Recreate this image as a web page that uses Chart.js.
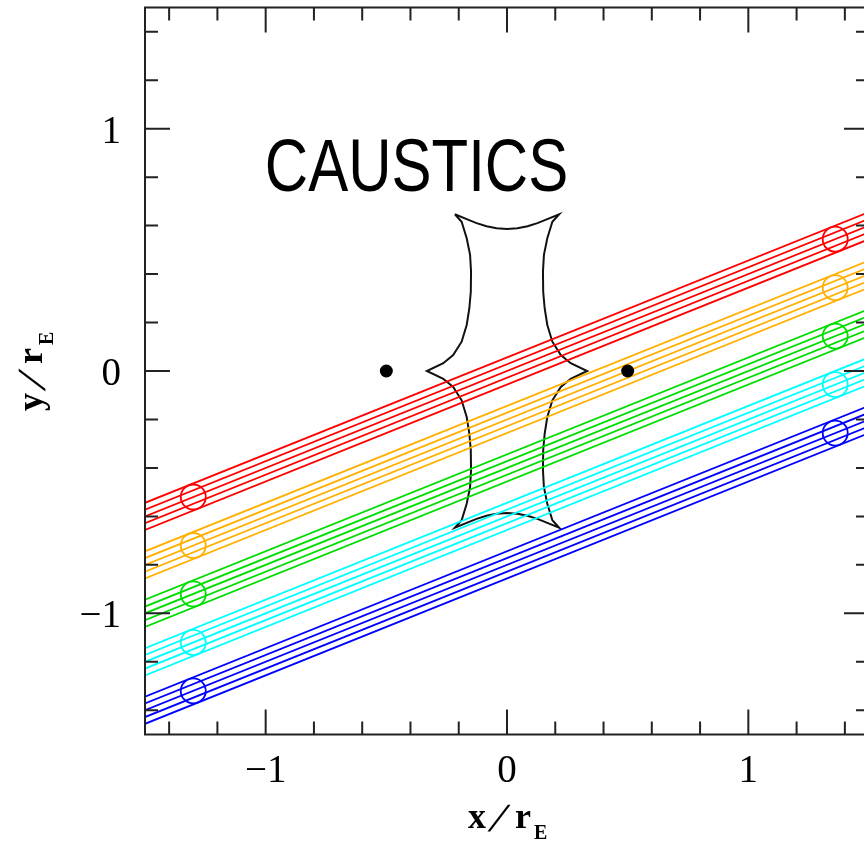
<!DOCTYPE html>
<html lang="en">
<head>
<meta charset="UTF-8">
<title>Caustics</title>
<script src="https://cdn.jsdelivr.net/npm/chart.js"></script>
<style>
  html, body { margin: 0; padding: 0; overflow: hidden; background: #fff; }
  canvas { display: block; }
</style>
</head>
<body>
<canvas id="chart" width="880" height="844"></canvas>
<script>
// source tracks: y of the central line at x = -1.5 and x = +1.5
const trackColors = ['#ff0000', '#ffb000', '#00dd00', '#00ffff', '#0000ff'];
const trackStartY = [-0.6, -0.8, -1.0, -1.2, -1.4];
const trackEndY = [0.6, 0.4, 0.2, 0.0, -0.2];
// every track is a bundle of 5 parallel lines
const lineOffsets = [0.056, 0.028, 0, -0.028, -0.056];

// source discs, two per track
const discX = [-1.30, 1.36];
const discY = [
  [-0.52, 0.544],
  [-0.72, 0.344],
  [-0.92, 0.144],
  [-1.12, -0.056],
  [-1.32, -0.256]
];

// lens positions
const lensX = [-0.5, 0.5];
const lensY = [0, 0];

// caustic curve, clockwise from the upper left cusp
const causticX = [
  -0.216, -0.167, -0.126, -0.085, -0.043, 0, 0.043, 0.085, 0.126, 0.167, 0.216,
  0.188, 0.167, 0.153, 0.149, 0.150, 0.156, 0.167, 0.188, 0.223, 0.264, 0.332,
  0.264, 0.223, 0.188, 0.167, 0.156, 0.150, 0.149, 0.153, 0.167, 0.188, 0.216,
  0.167, 0.126, 0.085, 0.043, 0, -0.043, -0.085, -0.126, -0.167, -0.216,
  -0.188, -0.167, -0.153, -0.149, -0.150, -0.156, -0.167, -0.188, -0.223, -0.264, -0.332,
  -0.264, -0.223, -0.188, -0.167, -0.156, -0.150, -0.149, -0.153, -0.167, -0.188, -0.216
];
const causticY = [
  0.647, 0.627, 0.610, 0.597, 0.589, 0.586, 0.589, 0.597, 0.610, 0.627, 0.647,
  0.616, 0.548, 0.479, 0.410, 0.327, 0.259, 0.190, 0.121, 0.066, 0.032, 0,
  -0.032, -0.066, -0.121, -0.190, -0.259, -0.327, -0.410, -0.479, -0.548, -0.616, -0.647,
  -0.627, -0.610, -0.597, -0.589, -0.586, -0.589, -0.597, -0.610, -0.627, -0.647,
  -0.616, -0.548, -0.479, -0.410, -0.327, -0.259, -0.190, -0.121, -0.066, -0.032, 0,
  0.032, 0.066, 0.121, 0.190, 0.259, 0.327, 0.410, 0.479, 0.548, 0.616, 0.647
];

// axis ticks
const majorTicks = [-1, 0, 1];
const tickLabels = ['\u22121', '0', '1'];
const minorTicks = [-1.4, -1.2, -0.8, -0.6, -0.4, -0.2, 0.2, 0.4, 0.6, 0.8, 1.2, 1.4];

const datasets = [];
datasets.push({
  data: lensX.map((x, i) => ({ x, y: lensY[i] })),
  showLine: false,
  pointRadius: 6.5,
  pointBackgroundColor: '#000',
  pointBorderWidth: 0,
  order: 0
});
trackColors.forEach((color, t) => {
  datasets.push({
    data: discX.map((x, i) => ({ x, y: discY[t][i] })),
    showLine: false,
    pointRadius: 12.5,
    pointBorderWidth: 1.8,
    pointBorderColor: color,
    pointBackgroundColor: 'rgba(0,0,0,0)',
    order: 1
  });
  lineOffsets.forEach(off => {
    datasets.push({
      data: [{ x: -1.5, y: trackStartY[t] + off }, { x: 1.5, y: trackEndY[t] + off }],
      showLine: true,
      borderColor: color,
      borderWidth: 1.8,
      pointRadius: 0,
      order: 2
    });
  });
});
datasets.push({
  data: causticX.map((x, i) => ({ x, y: causticY[i] })),
  showLine: true,
  borderColor: '#111',
  borderWidth: 2,
  pointRadius: 0,
  tension: 0,
  order: 3
});

// axis title "<name>/r_E", glyphs placed one by one
function drawTitle(ctx, name, cx, cy, angle) {
  ctx.save();
  ctx.translate(cx, cy);
  ctx.rotate(angle);
  ctx.textAlign = 'left';
  const x0 = -40;
  ctx.font = 'bold 36px "Liberation Serif"';
  ctx.fillText(name, x0, 0);
  ctx.fillText('r', x0 + 47, 0);
  // long, slanted solidus
  ctx.save();
  ctx.translate(x0 + 20, 3);
  ctx.transform(1, 0, -0.42, 1, 0, 0);
  ctx.font = 'bold 40px "Liberation Serif"';
  ctx.fillText('/', 0, 0);
  ctx.restore();
  ctx.font = 'bold 20px "Liberation Serif"';
  ctx.fillText('E', x0 + 66, 11);
  ctx.restore();
}

// frame with inward ticks, tick labels, axis titles and the caption
const framePlugin = {
  id: 'frame',
  afterDraw(chart) {
    const { ctx, chartArea: a, scales: { x, y } } = chart;
    ctx.save();
    ctx.strokeStyle = '#222';
    ctx.lineWidth = 2;
    ctx.strokeRect(a.left, a.top, a.right - a.left, a.bottom - a.top);

    ctx.beginPath();
    const addTicks = (v, len) => {
      const px = x.getPixelForValue(v);
      ctx.moveTo(px, a.bottom); ctx.lineTo(px, a.bottom - len);
      ctx.moveTo(px, a.top); ctx.lineTo(px, a.top + len);
      const py = y.getPixelForValue(v);
      ctx.moveTo(a.left, py); ctx.lineTo(a.left + len, py);
      ctx.moveTo(a.right, py); ctx.lineTo(a.right - len, py);
    };
    minorTicks.forEach(v => addTicks(v, 13));
    majorTicks.forEach(v => addTicks(v, 25));
    ctx.stroke();

    ctx.fillStyle = '#000';
    ctx.font = '39px "Liberation Serif"';
    majorTicks.forEach((v, i) => {
      ctx.textAlign = 'center';
      ctx.fillText(tickLabels[i], x.getPixelForValue(v), a.bottom + 47);
      ctx.textAlign = 'right';
      ctx.fillText(tickLabels[i], a.left - 24, y.getPixelForValue(v) + 14);
    });

    drawTitle(ctx, 'x', x.getPixelForValue(0) + 1, 828, 0);
    drawTitle(ctx, 'y', 42, y.getPixelForValue(0), -Math.PI / 2);

    ctx.save();
    ctx.translate(x.getPixelForValue(-0.375), y.getPixelForValue(0.744));
    ctx.scale(0.8, 1);
    ctx.font = '75px "Liberation Sans"';
    ctx.textAlign = 'center';
    ctx.fillText('CAUSTICS', 0, 0);
    ctx.restore();

    ctx.restore();
  }
};

new Chart(document.getElementById('chart').getContext('2d'), {
  type: 'scatter',
  data: { datasets },
  options: {
    responsive: false,
    maintainAspectRatio: false,
    animation: false,
    events: [],
    layout: {
      autoPadding: false,
      padding: { left: 145, right: 11, top: 7.5, bottom: 109.5 }
    },
    plugins: { legend: { display: false }, tooltip: { enabled: false } },
    scales: {
      x: { type: 'linear', min: -1.5, max: 1.5, display: false },
      y: { type: 'linear', min: -1.5, max: 1.5, display: false }
    }
  },
  plugins: [framePlugin]
});
</script>
</body>
</html>
